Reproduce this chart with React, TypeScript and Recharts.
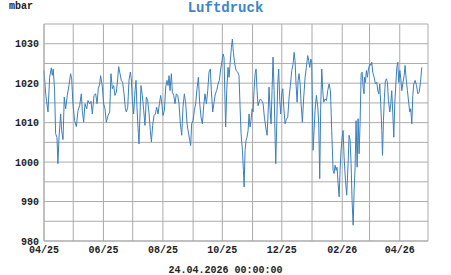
import { LineChart, Line, XAxis, YAxis, CartesianGrid } from 'recharts'

// days since 01.04.2025, pressure in mbar
const days = [
  0, 1.7, 4.1, 5.8, 7.5, 8.5, 9.5, 10.9, 11.9, 13.3, 14.3, 15.4, 17.1, 18.1, 19.5, 20.8, 22.2, 23.9, 25.6, 27.3,
  28.4, 29.7, 31.4, 33.2, 34.9, 36.6, 38.3, 39.3, 40.7, 42.1, 43.8, 45.1, 46.8, 48.2, 49.6, 51.3, 53.0, 54.4, 55.7, 57.1,
  58.1, 59.9, 61.2, 62.6, 63.9, 65.7, 67.4, 68.7, 70.1, 71.5, 72.8, 74.2, 75.6, 76.6, 78.0, 79.3, 80.7, 82.1, 83.5, 84.5,
  85.9, 87.2, 88.6, 89.6, 90.6, 92.0, 93.4, 94.4, 95.4, 96.8, 97.5, 98.5, 99.5, 100.9, 102.3, 103.6, 105.0, 106.4, 107.8, 109.1,
  110.2, 111.5, 112.9, 114.3, 115.6, 117.0, 118.4, 119.7, 121.1, 122.1, 123.5, 124.9, 126.2, 127.3, 128.3, 129.3, 130.7, 131.7, 133.1, 134.4,
  135.8, 137.2, 138.5, 139.9, 141.3, 142.6, 144.0, 145.4, 146.8, 148.1, 149.5, 150.5, 151.5, 152.9, 154.3, 155.6, 157.0, 158.4, 159.8, 161.1,
  162.5, 163.9, 165.2, 166.6, 168.0, 169.3, 170.7, 171.7, 173.1, 174.5, 175.8, 177.2, 178.6, 179.9, 181.3, 182.7, 183.7, 184.7, 185.8, 186.4,
  187.5, 188.8, 189.9, 190.9, 192.3, 193.3, 194.3, 195.7, 197.1, 198.8, 200.1, 201.2, 202.2, 203.6, 204.6, 205.3, 206.3, 207.3, 208.3, 209.4,
  210.4, 211.4, 212.4, 213.5, 214.5, 215.5, 216.6, 217.6, 218.6, 219.6, 220.7, 222.0, 223.4, 224.8, 226.1, 227.5, 228.9, 229.9, 230.9, 232.0,
  233.0, 234.0, 235.0, 236.1, 237.1, 237.8, 238.8, 239.8, 240.8, 241.9, 242.9, 243.9, 245.0, 246.0, 247.4, 248.7, 250.1, 251.5, 252.8, 254.2,
  255.6, 256.6, 257.6, 258.6, 259.7, 260.7, 261.7, 262.8, 263.8, 265.1, 266.5, 267.9, 269.2, 270.6, 271.6, 272.7, 273.7, 274.7, 275.4, 276.1,
  277.1, 278.1, 279.5, 280.9, 281.9, 282.9, 283.9, 285.0, 286.0, 287.0, 288.4, 289.8, 291.1, 292.5, 293.9, 295.2, 296.6, 297.6, 298.7, 299.7,
  300.7, 301.8, 302.8, 303.8, 304.8, 305.9, 306.9, 307.9, 309.3, 310.6, 312.0, 313.0, 314.1, 315.1, 316.1, 317.2, 318.2, 319.2, 320.2, 321.3,
  322.3, 323.3, 324.3, 325.4, 326.4, 327.4, 328.4, 328.8, 329.8, 330.8, 331.9, 332.9, 334.3, 335.3, 336.3, 337.3, 338.7, 340.1, 341.4, 342.5,
  343.5, 344.5, 345.5, 346.6, 347.3, 348.3, 349.3, 350.3, 351.4, 352.4, 353.4, 354.8, 355.8, 356.8, 357.9, 358.9, 359.9, 361.0, 362.0, 363.0,
  364.0, 365.1, 366.1, 367.1, 368.1, 369.5, 370.5, 371.6, 372.9, 374.3, 375.3, 376.3, 377.4, 378.4, 379.4, 380.8, 382.2, 383.6, 384.9, 386.3,
  387.6,
]

const pressure = [
  1023.2, 1017.3, 1012.7, 1021.5, 1023.9, 1022.0, 1023.6, 1018.0, 1007.2, 1006.3, 999.6, 1006.3, 1012.2, 1008.0, 1005.7, 1016.5, 1013.5, 1016.9, 1019.4, 1022.4,
  1021.1, 1014.8, 1010.5, 1009.0, 1013.1, 1014.3, 1017.3, 1013.1, 1010.1, 1014.8, 1013.5, 1015.6, 1014.8, 1015.4, 1012.2, 1016.9, 1017.3, 1014.8, 1018.6, 1019.8,
  1021.9, 1019.0, 1014.8, 1013.5, 1010.1, 1011.8, 1012.7, 1022.4, 1018.6, 1019.4, 1016.9, 1017.7, 1021.1, 1024.2, 1022.4, 1020.7, 1020.2, 1017.3, 1013.5, 1012.7,
  1013.9, 1020.7, 1022.8, 1021.1, 1015.6, 1012.2, 1018.1, 1020.7, 1013.9, 1007.2, 1004.6, 1012.2, 1019.4, 1016.9, 1013.1, 1009.3, 1016.5, 1015.6, 1012.2, 1008.0,
  1005.1, 1009.3, 1011.8, 1012.2, 1013.9, 1012.2, 1014.8, 1016.9, 1014.3, 1011.8, 1013.1, 1019.0, 1020.7, 1019.4, 1021.9, 1018.1, 1022.4, 1017.7, 1016.9, 1014.8,
  1017.3, 1016.9, 1014.8, 1009.7, 1006.8, 1013.9, 1017.3, 1014.8, 1009.7, 1007.6, 1005.5, 1004.2, 1009.7, 1010.5, 1013.1, 1014.8, 1018.6, 1021.5, 1014.8, 1011.4,
  1009.7, 1014.3, 1017.3, 1014.8, 1018.1, 1022.8, 1023.6, 1018.1, 1012.7, 1015.2, 1017.3, 1018.1, 1019.8, 1020.7, 1023.6, 1025.7, 1027.4, 1026.6, 1014.8, 1008.9,
  1018.1, 1024.0, 1021.5, 1024.9, 1029.1, 1031.2, 1027.8, 1024.9, 1023.2, 1022.8, 1021.9, 1013.9, 1007.2, 1003.0, 997.9, 993.7, 1003.0, 1005.5, 1006.3, 1008.0,
  1012.2, 1008.9, 1010.5, 1013.5, 1012.7, 1018.1, 1022.4, 1023.6, 1018.1, 1014.3, 1015.2, 1016.0, 1015.6, 1014.8, 1011.4, 1008.9, 1006.8, 1012.2, 1019.0, 1013.1,
  1009.7, 1018.1, 1026.6, 1018.1, 1006.3, 999.6, 1009.7, 1019.8, 1023.6, 1015.6, 1012.2, 1017.3, 1018.6, 1013.9, 1009.7, 1010.9, 1011.4, 1016.5, 1019.4, 1023.2,
  1024.9, 1027.8, 1025.7, 1019.8, 1015.2, 1020.7, 1022.4, 1019.8, 1014.8, 1010.1, 1016.5, 1021.5, 1024.0, 1027.0, 1025.7, 1024.0, 1026.1, 1025.3, 1013.9, 1003.0,
  1008.0, 1013.1, 1016.9, 1013.9, 1009.7, 995.8, 1013.9, 1023.6, 1018.1, 1015.2, 1016.0, 1015.6, 1018.1, 1019.8, 1018.1, 1008.0, 997.9, 997.1, 999.2, 997.9,
  998.7, 994.5, 991.2, 997.9, 1003.0, 1006.3, 1008.0, 1001.3, 995.4, 991.6, 999.6, 1006.8, 1005.5, 999.6, 990.3, 984.0, 992.8, 998.7, 1010.5, 998.7,
  1011.0, 1002.1, 1009.7, 1022.4, 1022.8, 1019.0, 1017.3, 1021.5, 1020.2, 1023.2, 1021.5, 1023.6, 1024.9, 1024.5, 1025.3, 1022.8, 1021.5, 1019.8, 1020.2, 1018.1,
  1017.3, 1019.8, 1014.8, 1008.0, 1001.7, 1010.5, 1016.5, 1020.7, 1021.1, 1020.2, 1015.6, 1012.7, 1014.8, 1018.1, 1012.2, 1006.3, 1014.8, 1019.8, 1024.0, 1025.3,
  1020.2, 1023.2, 1021.1, 1018.1, 1019.8, 1021.9, 1024.5, 1021.1, 1018.1, 1014.8, 1012.7, 1013.5, 1009.7, 1016.9, 1019.8, 1020.7, 1019.4, 1017.3, 1017.7, 1020.2,
  1024.0,
]

// first day of each month, days since 01.04.2025
const monthStarts = [0, 30, 61, 91, 122, 153, 183, 214, 244, 275, 306, 334, 365, 394]
const tickDays = [0, 61, 122, 183, 244, 306, 365]
const tickLabels = ['04/25', '06/25', '08/25', '10/25', '12/25', '02/26', '04/26']
const yTicks = [980, 990, 1000, 1010, 1020, 1030]
const yGrid = [980, 985, 990, 995, 1000, 1005, 1010, 1015, 1020, 1025, 1030, 1035]

const title = 'Luftdruck'
const unit = 'mbar'
const stamp = '24.04.2026 00:00:00'

const data = days.map((d, i) => ({ day: d, p: pressure[i] }))

const FONT = '"Liberation Mono", "DejaVu Sans Mono", monospace'
const GRID = '#ababab'
const LINE = '#3b7fc0'

export default function App() {
  const tick = { fill: '#222', fontSize: 10, fontFamily: FONT, fontWeight: 'bold' }
  return (
    <div style={{ position: 'absolute', left: 0, top: 0, width: 451, height: 275, background: '#fff' }}>
      <LineChart width={451} height={275} data={data} margin={{ top: 24, right: 23, left: 1, bottom: 0 }}>
        <CartesianGrid stroke={GRID} horizontalValues={yGrid} verticalValues={monthStarts} />
        <XAxis
          dataKey="day"
          type="number"
          domain={[0, 394]}
          ticks={tickDays}
          tickFormatter={(v: number) => tickLabels[tickDays.indexOf(v)] ?? ''}
          height={34}
          tick={tick}
          axisLine={{ stroke: GRID }}
          tickLine={false}
          tickSize={0}
          tickMargin={5}
          interval={0}
        />
        <YAxis
          type="number"
          domain={[980, 1035]}
          ticks={yTicks}
          width={43}
          tick={tick}
          axisLine={{ stroke: GRID }}
          tickLine={false}
          tickSize={0}
          tickMargin={5}
          interval={0}
        />
        <Line
          type="linear"
          dataKey="p"
          stroke={LINE}
          strokeWidth={1}
          dot={false}
          isAnimationActive={false}
        />
      </LineChart>
      <svg width={451} height={275} style={{ position: 'absolute', left: 0, top: 0, pointerEvents: 'none' }}>
        <text x={9} y={9} fontFamily={FONT} fontSize={10} fontWeight="bold" fill="#222">
          {unit}
        </text>
        <text x={225.5} y={12} textAnchor="middle" fontFamily={FONT} fontSize={14} fontWeight="bold" fill="#3d85c6">
          {title}
        </text>
        <text x={225.5} y={272.5} textAnchor="middle" fontFamily={FONT} fontSize={10} fontWeight="bold" fill="#222">
          {stamp}
        </text>
      </svg>
    </div>
  )
}
